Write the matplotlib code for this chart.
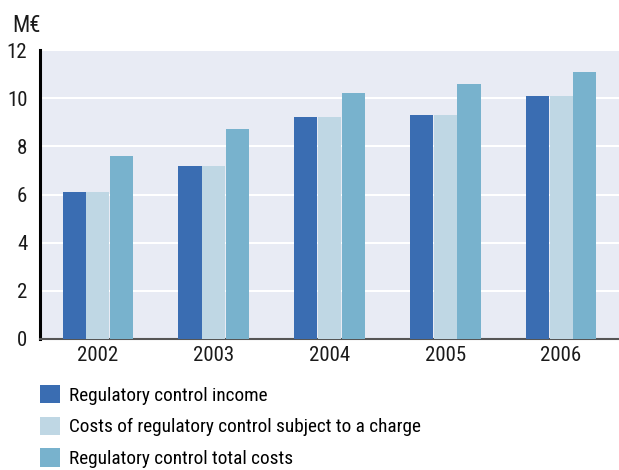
import matplotlib
matplotlib.use("Agg")
import matplotlib.pyplot as plt
import matplotlib.font_manager as fm
from matplotlib.patches import Patch
import numpy as np

years = ["2002", "2003", "2004", "2005", "2006"]
income = [6.1, 7.2, 9.2, 9.3, 10.1]
charged_costs = [6.1, 7.2, 9.2, 9.3, 10.1]
total_costs = [7.6, 8.7, 10.2, 10.6, 11.1]
series_names = ["Regulatory control income",
                "Costs of regulatory control subject to a charge",
                "Regulatory control total costs"]
colors = ["#3A6DB2", "#BFD7E4", "#78B2CD"]

names = {f.name for f in fm.fontManager.ttflist}
family = "DejaVu Sans"
for cand in ["Roboto Condensed", "Liberation Sans Narrow", "Roboto", "Liberation Sans"]:
    if cand in names:
        family = cand
        break
plt.rcParams["font.family"] = [family, "DejaVu Sans"]

fig = plt.figure(figsize=(6.19, 4.70), dpi=100)
ax = fig.add_axes([40 / 619, 131 / 470, 579 / 619, 289 / 470])
ax.set_facecolor("#E8EBF4")

x = np.arange(len(years))
w = 0.2
step = 0.205
for i, vals in enumerate([income, charged_costs, total_costs]):
    ax.bar(x + (i - 1) * step, vals, width=w, color=colors[i], zorder=3)

ax.set_xlim(-0.5, len(years) - 0.5)
ax.set_ylim(0, 12)
ax.set_yticks(range(0, 13, 2))
ax.set_xticks(x)
ax.set_xticklabels(years)
ax.yaxis.grid(True, color="white", linewidth=1.5, zorder=1)
ax.set_axisbelow(True)
ax.tick_params(axis="both", length=0, labelsize=15, colors="#1a1a1a")
ax.tick_params(axis="x", pad=5)
ax.tick_params(axis="y", pad=9)
for s in ["top", "right"]:
    ax.spines[s].set_visible(False)
ax.spines["left"].set_linewidth(2.2)
ax.spines["left"].set_color("black")
ax.spines["bottom"].set_linewidth(1.5)
ax.spines["bottom"].set_color("#555555")

fig.text(12 / 619, 1 - 25 / 470, "M€", fontsize=16.5, va="center", ha="left", color="#1a1a1a")

handles = [Patch(facecolor=c, edgecolor="none") for c in colors]
fig.legend(handles, series_names, loc="upper left",
           bbox_to_anchor=(32 / 619, 1 - 377 / 470), frameon=False,
           fontsize=13.9, handlelength=1.05, handleheight=1.1,
           handletextpad=0.45, labelspacing=0.62, borderaxespad=0)

fig.savefig("out.png", dpi=100)
